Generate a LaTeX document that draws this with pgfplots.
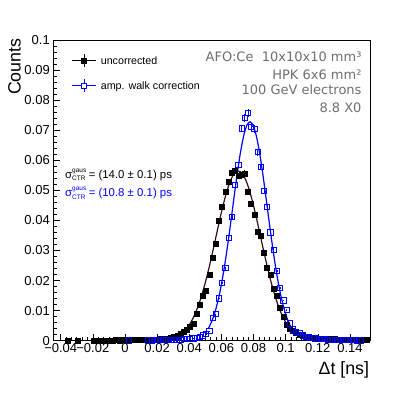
\documentclass[border=0pt]{standalone}
\usepackage{fontspec}
\setmainfont{Liberation Sans}
\newfontfamily\dejavu{DejaVu Sans}
\usepackage{pgfplots}
\pgfplotsset{compat=1.18}
\definecolor{rootblue}{RGB}{0,0,255}
\definecolor{fitdark}{RGB}{55,15,15}
\definecolor{infogray}{RGB}{110,110,110}
\newcommand{\sigctr}{σ\rlap{\raisebox{6pt}{\fontsize{6.5}{7}\selectfont gaus}}\raisebox{-2.2pt}{\fontsize{6.5}{7}\selectfont CTR}}
% ROOT-like legend symbol: line, error cross and marker
\newcommand{\rootlegimg}[1]{%
  \draw[#1, mark=none, line width=0.6pt] (0pt,0pt) -- (9.8pt,0pt) (14.9pt,0pt) -- (24.7pt,0pt)
    (12.35pt,2.55pt) -- (12.35pt,6.5pt) (12.35pt,-2.55pt) -- (12.35pt,-6.5pt);
  \draw[#1] plot coordinates {(12.35pt,0pt)};}
\pgfplotsset{rootleg/.style={legend image code/.code={\rootlegimg{##1}}}}

\begin{document}
\begin{tikzpicture}
\path[use as bounding box] (0,0) rectangle (411pt,393pt);
\begin{axis}[
  at={(53pt,52.3pt)}, anchor=south west,
  scale only axis, width=317.5pt, height=300.7pt,
  xmin=-0.0448, xmax=0.1528, ymin=0, ymax=0.1,
  clip=false,
  scaled ticks=false,
  xtick={-0.04,-0.02,0,0.02,0.04,0.06,0.08,0.1,0.12,0.14},
  xticklabels={−0.04,−0.02,0,0.02,0.04,0.06,0.08,0.1,0.12,0.14},
  ytick={0,0.01,0.02,0.03,0.04,0.05,0.06,0.07,0.08,0.09,0.1},
  yticklabels={0,0.01,0.02,0.03,0.04,0.05,0.06,0.07,0.08,0.09,0.1},
  minor x tick num=5, minor y tick num=4,
  tick align=inside, tick pos=left,
  major tick length=7pt, minor tick length=3.5pt,
  tick style={black, line width=0.6pt},
  axis line style={line width=0.8pt},
  ticklabel style={font=\fontsize{13}{15}\selectfont},
  xticklabel style={anchor=north, inner sep=0pt, yshift=-2.6pt},
  yticklabel style={anchor=east, inner sep=0pt, xshift=-3pt},
  xlabel={Δt [ns]},
  xlabel style={at={(axis description cs:0.9962,-0.0698)}, anchor=north east,
                inner sep=0pt, font=\fontsize{17.8}{20}\selectfont},
  ylabel={Counts},
  ylabel style={at={(axis description cs:-0.1417,1.0057)}, anchor=north east,
                inner sep=0pt, font=\fontsize{17.8}{20}\selectfont},
  legend style={at={(axis description cs:0.0567,0.955)}, anchor=north west,
                draw=none, fill=none, inner sep=0pt, row sep=11.5pt,
                font=\fontsize{10.7}{12}\selectfont,
                nodes={inner sep=0pt, text depth=0pt},
                /tikz/every odd column/.append style={column sep=4.3pt}},
  legend cell align=left,
]
% uncorrected
\addplot[black, mark=square*, mark size=2.5pt, only marks, rootleg,
  error bars/.cd, y dir=both, y fixed relative=0.018, error mark=none,
  error bar style={line width=0.6pt}]
coordinates {
(-0.0355,0.0001) (-0.0295,0.0001)
(-0.0195,0.0001) (-0.0175,0.0001) (-0.0155,0.0001) (-0.0135,0.0001) (-0.0115,0.0001)
(-0.0095,0.0001) (-0.0075,0.0001) (-0.0055,0.0002) (-0.0035,0.0001) (-0.0015,0.0002)
(0.0005,0.0002) (0.0025,0.0002) (0.0045,0.0002) (0.0065,0.0002) (0.0085,0.0002)
(0.0105,0.0002) (0.0125,0.0003) (0.0145,0.0003) (0.0165,0.0003) (0.0185,0.0004)
(0.0205,0.0004) (0.0225,0.0005) (0.0245,0.0006) (0.0265,0.0008) (0.0285,0.0010)
(0.0305,0.0013) (0.0325,0.0017) (0.0345,0.0022) (0.0365,0.0030) (0.0385,0.0038)
(0.0405,0.0047) (0.0425,0.0058) (0.0445,0.0089) (0.0465,0.0119) (0.0485,0.0149)
(0.0505,0.0167) (0.0525,0.0218) (0.0545,0.0275) (0.0565,0.0324) (0.0585,0.0399)
(0.0605,0.0446) (0.0625,0.0494) (0.0645,0.0528) (0.0665,0.0560) (0.0685,0.0567)
(0.0705,0.0548) (0.0725,0.0552) (0.0745,0.0557) (0.0765,0.0496) (0.0785,0.0455)
(0.0805,0.0418) (0.0825,0.0364) (0.0845,0.0350) (0.0865,0.0291) (0.0885,0.0244)
(0.0905,0.0218) (0.0925,0.0172) (0.0945,0.0149) (0.0965,0.0111) (0.0985,0.0080)
(0.1005,0.0052) (0.1025,0.0041) (0.1045,0.0033) (0.1065,0.0027) (0.1085,0.0021)
(0.1105,0.0017) (0.1125,0.0013) (0.1145,0.0011) (0.1165,0.0010) (0.1185,0.0009)
(0.1205,0.0008) (0.1225,0.0007) (0.1245,0.0006) (0.1265,0.0006) (0.1285,0.0005)
(0.1305,0.0005) (0.1325,0.0004) (0.1345,0.0004) (0.1365,0.0003) (0.1385,0.0003)
(0.1405,0.0003) (0.1425,0.0003) (0.1445,0.0002) (0.1465,0.0002) (0.1485,0.0002)
(0.1505,0.0002)
};
\addlegendentry{uncorrected}
% gaussian fit, uncorrected
\addplot[fitdark, line width=1.2pt, smooth, mark=none, forget plot] coordinates {
(0.040,0.00527) (0.042,0.00712) (0.044,0.00942) (0.046,0.01222) (0.048,0.01553)
(0.050,0.01934) (0.052,0.02360) (0.054,0.02821) (0.056,0.03304) (0.058,0.03793)
(0.060,0.04265) (0.062,0.04699) (0.064,0.05073) (0.066,0.05366) (0.068,0.05561)
(0.070,0.05646) (0.072,0.05618) (0.074,0.05476) (0.076,0.05230) (0.078,0.04895)
(0.080,0.04488) (0.082,0.04032) (0.084,0.03549) (0.086,0.03061) (0.088,0.02587)
(0.090,0.02142) (0.092,0.01737) (0.094,0.01381) (0.096,0.01075) (0.098,0.00821)
(0.100,0.00614) (0.102,0.00450) (0.104,0.00323)
};
% amp. walk correction
\addplot[rootblue, mark=square, mark size=2.6pt, only marks,
  mark options={line width=0.7pt}, rootleg,
  error bars/.cd, y dir=both, y fixed relative=0.018, error mark=none,
  error bar style={line width=0.6pt}]
coordinates {
(0.0025,0.0001)
(0.0145,0.0001) (0.0165,0.0001) (0.0185,0.0002) (0.0205,0.0002) (0.0225,0.0002)
(0.0245,0.0002) (0.0265,0.0003) (0.0285,0.0003) (0.0305,0.0003) (0.0325,0.0004)
(0.0345,0.0004) (0.0365,0.0005) (0.0385,0.0006) (0.0405,0.0007) (0.0425,0.0008)
(0.0445,0.0010) (0.0465,0.0013) (0.0485,0.0018) (0.0505,0.0023) (0.0525,0.0032)
(0.0545,0.0075) (0.0565,0.0088) (0.0585,0.0141) (0.0605,0.0193) (0.0625,0.0241)
(0.0645,0.0341) (0.0665,0.0412) (0.0685,0.0518) (0.0705,0.0584) (0.0725,0.0706)
(0.0745,0.0740) (0.0765,0.0757) (0.0785,0.0712) (0.0805,0.0704) (0.0825,0.0627)
(0.0845,0.0577) (0.0865,0.0498) (0.0885,0.0446) (0.0905,0.0360) (0.0925,0.0302)
(0.0945,0.0231) (0.0965,0.0176) (0.0985,0.0134) (0.1005,0.0102) (0.1025,0.0058)
(0.1045,0.0038) (0.1065,0.0030) (0.1085,0.0025) (0.1105,0.0018) (0.1125,0.0014)
(0.1145,0.0011) (0.1165,0.0009) (0.1185,0.0008) (0.1205,0.0007) (0.1225,0.0006)
(0.1245,0.0005) (0.1265,0.0004) (0.1285,0.0004) (0.1305,0.0003) (0.1325,0.0003)
(0.1345,0.0003) (0.1365,0.0002) (0.1385,0.0002) (0.1405,0.0002) (0.1425,0.0002)
(0.1445,0.0001) (0.1465,0.0001)
};
\addlegendentry{amp. walk correction}
% gaussian fit, corrected
\addplot[rootblue, line width=1.2pt, smooth, mark=none, forget plot] coordinates {
(0.052,0.00420) (0.054,0.00642) (0.056,0.00949) (0.058,0.01356) (0.060,0.01872)
(0.062,0.02497) (0.064,0.03218) (0.066,0.04008) (0.068,0.04823) (0.070,0.05609)
(0.072,0.06302) (0.074,0.06843) (0.076,0.07180) (0.078,0.07279) (0.080,0.07131)
(0.082,0.06750) (0.084,0.06174) (0.086,0.05457) (0.088,0.04661) (0.090,0.03846)
(0.092,0.03067) (0.094,0.02364) (0.096,0.01760) (0.098,0.01267) (0.100,0.00880)
(0.102,0.00591) (0.104,0.00384)
};
% annotations
\node[anchor=base west, inner sep=0pt, font=\fontsize{11.4}{13}\selectfont]
  at (axis description cs:0.0378,0.5394) {\sigctr\ = (14.0 ± 0.1) ps};
\node[anchor=base west, inner sep=0pt, font=\fontsize{11.4}{13}\selectfont, text=rootblue]
  at (axis description cs:0.0378,0.4779) {\sigctr\ = (10.8 ± 0.1) ps};
\node[anchor=base east, inner sep=0pt, font=\dejavu\fontsize{13}{15}\selectfont, text=infogray]
  at (axis description cs:0.9723,0.9278) {AFO:Ce\ \ 10x10x10 mm³};
\node[anchor=base east, inner sep=0pt, font=\dejavu\fontsize{13}{15}\selectfont, text=infogray]
  at (axis description cs:0.9723,0.8693) {HPK 6x6 mm²};
\node[anchor=base east, inner sep=0pt, font=\dejavu\fontsize{13}{15}\selectfont, text=infogray]
  at (axis description cs:0.9723,0.8171) {100 GeV electrons};
\node[anchor=base east, inner sep=0pt, font=\dejavu\fontsize{13}{15}\selectfont, text=infogray]
  at (axis description cs:0.9723,0.7582) {8.8 X0};
\end{axis}
\end{tikzpicture}
\end{document}
